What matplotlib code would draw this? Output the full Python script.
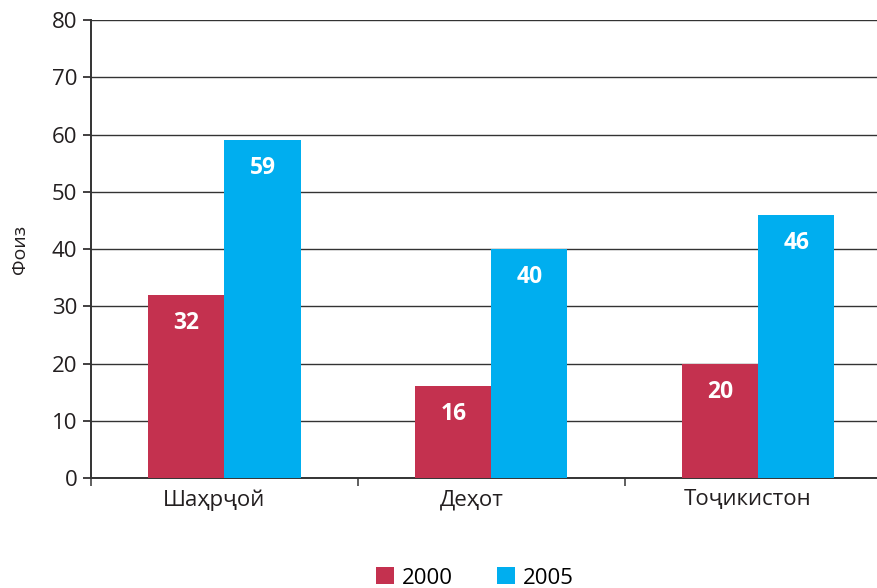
import numpy as np
import matplotlib.pyplot as plt
import matplotlib.transforms as mtransforms

plt.rcParams['font.family'] = ['Open Sans', 'Noto Sans', 'DejaVu Sans']

categories = ['Шаҳрҷой', 'Деҳот', 'Тоҷикистон']
years = ['2000', '2005']
values_2000 = [32, 16, 20]
values_2005 = [59, 40, 46]
colors = ['#C4314F', '#00AEEF']

fig = plt.figure(figsize=(8.77, 5.88), dpi=100)
# the plot area runs a little past the right edge of the picture
ax = fig.add_axes([0.1038, 0.187, 0.913, 0.779])

x = np.arange(len(categories))
w = 0.285
bars_a = ax.bar(x - w / 2, values_2000, w, color=colors[0], label=years[0], zorder=3)
bars_b = ax.bar(x + w / 2, values_2005, w, color=colors[1], label=years[1], zorder=3)

for bars in (bars_a, bars_b):
    for b in bars:
        h = b.get_height()
        ax.text(b.get_x() + b.get_width() / 2, h - 4.9, f'{h:.0f}',
                ha='center', va='center', color='white',
                fontsize=16.5, fontweight='bold', zorder=4)

ax.set_ylim(0, 80)
ax.set_yticks(range(0, 81, 10))
ax.set_xlim(-0.5, 2.5)
ax.set_xticks(x)
ax.set_xticklabels(categories)
ax.set_xticks([-0.5, 0.5, 1.5, 2.5], minor=True)
ax.tick_params(axis='x', which='major', length=0, labelsize=16, pad=8, colors='#231F20')
ax.tick_params(axis='x', which='minor', length=6, width=1.2, direction='out', color='#444444')
ax.tick_params(axis='y', length=6, width=1.2, labelsize=16, pad=4, colors='#231F20')

# category labels in the original sit a bit left of the bar groups
for lbl, dx in zip(ax.get_xticklabels(), [-10, -20, -11]):
    lbl.set_transform(lbl.get_transform() +
                      mtransforms.ScaledTranslation(dx / 100, 0, fig.dpi_scale_trans))

ax.yaxis.grid(True, color='#333333', linewidth=1.0, zorder=0)
ax.set_axisbelow(True)
for s in ('top', 'right'):
    ax.spines[s].set_visible(False)
for s in ('left', 'bottom'):
    ax.spines[s].set_color('#333333')
    ax.spines[s].set_linewidth(1.4)

ax.set_ylabel('Фоиз', fontsize=14, color='#231F20', labelpad=16)

fig.legend(loc='center', bbox_to_anchor=(475 / 877, 1 - 578 / 588), ncol=2,
           frameon=False, fontsize=16, handlelength=0.8, handleheight=0.8,
           handletextpad=0.35, columnspacing=2.0)

fig.savefig('out.png', dpi=100)
